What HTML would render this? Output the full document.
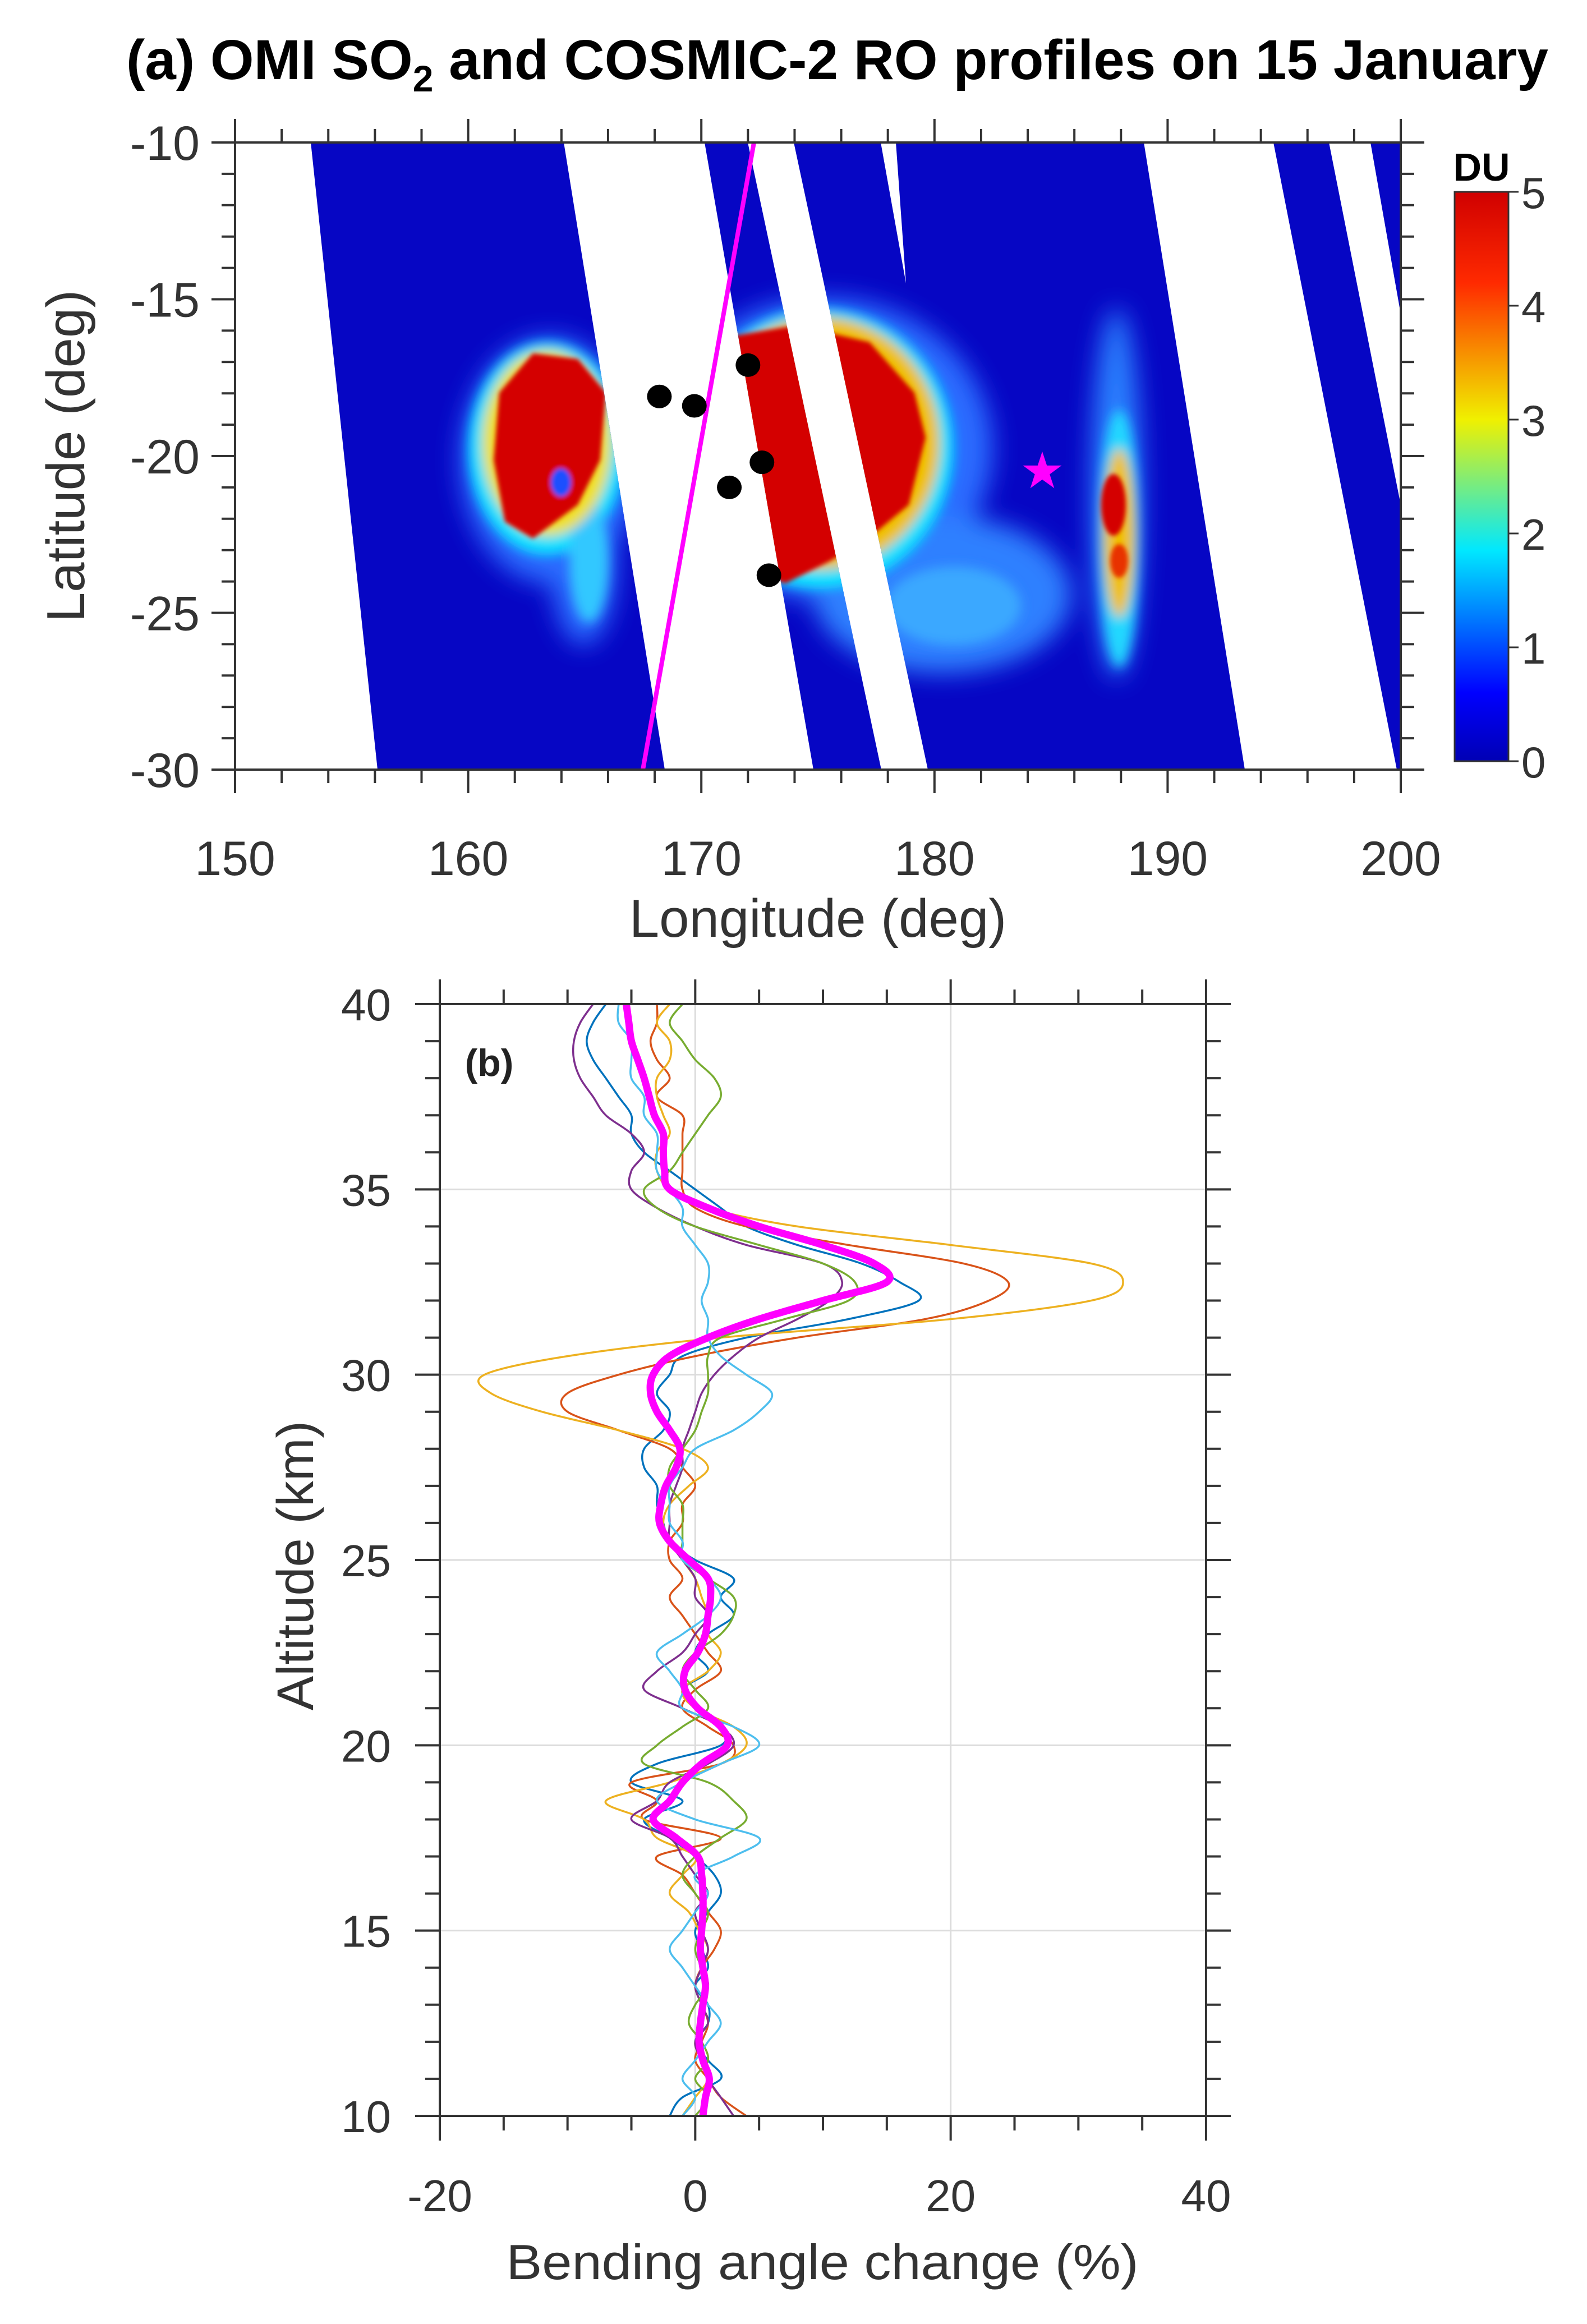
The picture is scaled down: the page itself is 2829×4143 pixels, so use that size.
<!DOCTYPE html>
<html><head><meta charset="utf-8"><style>
html,body{margin:0;padding:0;background:#fff}
svg{display:block}
text{font-family:"Liberation Sans",sans-serif}
</style></head><body>
<svg id="fig" xmlns="http://www.w3.org/2000/svg" width="2829" height="4143" viewBox="0 0 2829 4143">
<defs>
<linearGradient id="jet" x1="0" y1="1" x2="0" y2="0">
<stop offset="0" stop-color="#0000b4"/><stop offset="0.12" stop-color="#0000ff"/><stop offset="0.37" stop-color="#00e8ff"/><stop offset="0.6" stop-color="#f0f000"/><stop offset="0.84" stop-color="#ff2a00"/><stop offset="1" stop-color="#d00000"/>
</linearGradient>
<clipPath id="swath">
<polygon points="554,254 1005,254 1185,1372 673,1372"/>
<polygon points="1256,254 1333,254 1571,1372 1450,1372"/>
<polygon points="1415,254 2039,254 2219,1372 1654,1372"/>
<polygon points="2270,254 2369,254 2497,900 2497,1372 2490,1372"/>
<polygon points="2443,254 2497,254 2497,560"/>
</clipPath>
<filter id="b1" x="-50%" y="-50%" width="200%" height="200%"><feGaussianBlur stdDeviation="22"/></filter>
<filter id="b2" x="-50%" y="-50%" width="200%" height="200%"><feGaussianBlur stdDeviation="10"/></filter>
<filter id="b3" x="-50%" y="-50%" width="200%" height="200%"><feGaussianBlur stdDeviation="4"/></filter>
</defs>

<text x="225" y="141" font-size="100" font-weight="bold" fill="#000" textLength="2535" lengthAdjust="spacingAndGlyphs">(a) OMI SO<tspan font-size="66" dy="22">2</tspan><tspan dy="-22"> and COSMIC-2 RO profiles on 15 January</tspan></text>

<g id="panelA">
<g clip-path="url(#swath)">
<rect x="419" y="254" width="2078" height="1118" fill="#0606c4"/>
<g filter="url(#b1)">
<ellipse cx="980" cy="820" rx="160" ry="220" fill="#2a6cff"/>
<ellipse cx="1040" cy="1000" rx="60" ry="150" fill="#2a6cff"/>
<ellipse cx="1470" cy="800" rx="300" ry="270" fill="#2a6cff"/>
<ellipse cx="1680" cy="1060" rx="230" ry="140" fill="#2f80ff"/>
<ellipse cx="1990" cy="880" rx="45" ry="330" fill="#2a80ff"/>
</g>
<g filter="url(#b2)">
<ellipse cx="975" cy="800" rx="140" ry="190" fill="#10e0ff"/>
<ellipse cx="1050" cy="1000" rx="35" ry="110" fill="#30c8ff"/>
<ellipse cx="1460" cy="800" rx="240" ry="250" fill="#10e0ff"/>
<ellipse cx="1700" cy="1080" rx="120" ry="70" fill="#3aa8ff"/>
<ellipse cx="1995" cy="960" rx="35" ry="230" fill="#20d8ff"/>
<ellipse cx="975" cy="790" rx="115" ry="165" fill="#f0e020"/>
<ellipse cx="1460" cy="790" rx="215" ry="225" fill="#f0c000"/>
<ellipse cx="1995" cy="950" rx="28" ry="150" fill="#f0c000"/>
</g>
<g filter="url(#b3)">
<path d="M890,700 L950,630 L1030,640 L1080,700 L1070,820 L1030,900 L950,960 L900,930 L880,820 Z" fill="#d40000"/>
<path d="M1300,600 L1420,580 L1550,610 L1630,700 L1650,780 L1620,900 L1560,950 L1480,1000 L1400,1040 L1340,1020 L1320,900 L1300,750 Z" fill="#d40000"/>
<ellipse cx="1985" cy="900" rx="22" ry="55" fill="#d40000"/>
<ellipse cx="1995" cy="1000" rx="16" ry="30" fill="#e83000"/>
<ellipse cx="1000" cy="860" rx="18" ry="25" fill="#1a50ff"/>
</g>
</g>
<polygon points="1570,254 1597,254 1615,505" fill="#fff"/>
<line x1="1344" y1="254" x2="1146" y2="1372" stroke="#ff00ff" stroke-width="8"/>
<g id="roDots"></g>
<text x="1858" y="870" font-size="90" fill="#ff00ff" text-anchor="middle">★</text>
<rect x="419" y="254" width="2078" height="1118" fill="none" stroke="#333" stroke-width="4"/>
<g id="axA"></g>
<rect x="2593" y="342" width="96" height="1015" fill="url(#jet)" stroke="#333" stroke-width="3"/>
<g id="cbA"></g>
<text x="2641" y="322" font-size="70" font-weight="bold" text-anchor="middle" fill="#000">DU</text>
<text x="1458" y="1670" font-size="96" text-anchor="middle" fill="#333">Longitude (deg)</text>
<text transform="translate(150,813) rotate(-90)" font-size="96" text-anchor="middle" fill="#333">Latitude (deg)</text>
</g>

<g id="panelB">
<g id="gridB"></g>
<g id="linesB"></g>
<rect x="784" y="1790" width="1366" height="1982" fill="none" stroke="#333" stroke-width="4"/>
<g id="axB"></g>
<text x="872" y="1918" font-size="68" font-weight="bold" text-anchor="middle" fill="#222">(b)</text>
<text x="1466" y="4063" font-size="88" text-anchor="middle" fill="#333" textLength="1127" lengthAdjust="spacingAndGlyphs">Bending angle change (%)</text>
<text transform="translate(558,2791) rotate(-90)" font-size="92" text-anchor="middle" fill="#333">Altitude (km)</text>
</g>
</svg>
<script>
const NS='http://www.w3.org/2000/svg';
// Panel (a) data
const dotLon=[168.2,169.7,172.0,172.6,171.2,172.9];
const dotLat=[-18.1,-18.4,-17.1,-20.2,-21.0,-23.8];
const lonTicks=[150,160,170,180,190,200];
const latTicks=[-10,-15,-20,-25,-30];
const cbTicks=[0,1,2,3,4,5];
// Panel (b) data
const alt=[10,10.5,11,11.5,12,12.5,13,13.5,14,14.5,15,15.5,16,16.5,17,17.5,18,18.5,19,19.5,20,20.5,21,21.5,22,22.5,23,23.5,24,24.5,25,25.5,26,26.5,27,27.5,28,28.5,29,29.5,30,30.5,31,31.5,32,32.5,33,33.5,34,34.5,35,35.5,36,36.5,37,37.5,38,38.5,39,39.5,40];
const sBlue=[-2,-1,2,1,0,1,1,0,1,0.5,0, 1,2,1.5,0,-2,-4,-1,-5,-3,2, 2,0,-1,1,0,1,3,2,3,0, -2,-2.5,-3,-3,-4,-4,-2.5,-2,-3,-2, -1,4,12,17.5,16,13,8,4,2,0, -2,-4,-5,-5,-6,-7,-8,-8.5,-8,-7];
const sOrange=[4,2,1,0,0.5,1,0.5,0,0.5,1.5,2, 1,0,-1,-3,2,-4,-3,-5,2,3, 1,-1,0,2,1,0,-1,-2,-1,-2, -2,-1,-1,0,-1,-2,-6,-10,-10,-6, 0,8,18,23,24.5,21,12,4,0,-1, -1,-1,-1,-1,-3,-2,-3,-3.5,-3,-3];
const sYellow=[-1,0,1,0.5,0,1,0.5,0,0.5,1,0.3, -0.5,-2,-1,0,-3,-4,-7,-2,2,4, 3,0,-1,1,2,1,1,0.5,0,-1, -2,-2.5,-2,-0.5,1,-1,-6,-12,-16,-16.5, -10,2,20,31,33.5,31,20,8,1,-2, -3,-3,-2,-2.5,-3,-3,-2,-2,-3,-2];
const sPurple=[3,2,1,0.5,0,1,0.5,0,0.5,1,0.5, 0,1,0,-1,-2,-5,-3,-2,1,3, 2,-1,-4,-3,-1,0,1,0,0,-1, -2,-2,-2,-1.5,-1,-1,-0.5,0,0.5,1.5, 3,5,8,10.5,11.5,10,4,0,-3,-5, -5,-4,-5,-7,-8,-9,-9.5,-9.5,-9,-8];
const sGreen=[0,1,0,1,0.5,-0.5,0,1,0.5,0,0.5, 1,0,-1,0,2,4,3,1,-4,-3, -1,1,0,-1,0,2,3,3,1,-1, -1,-1,-1,-2,-2,-1,0,0.5,1,1, 1,2,7,12,12.5,10,5,0,-3,-4, -2,-1,0,1,2,1.5,0,-1,-2,-1];
const sCyan=[-1,0,-1,0,1,2,1,0,-1,-2,-1, 0,1,0,3,5,0,-3,-1,2,5, 3,-1,-1,-2,-3,-1,1,2,1,-1, -1,-2,-2,-2,-1,0,3,5,6,4, 2,1,1,0.5,1,1,0,-1,-1,-2, -3,-3,-3,-4,-4,-5,-5,-5,-6,-6];
const sMean=[0.6,0.8,1.1,0.6,0.3,0.4,0.6,0.8,0.6,0.4,0.5, 0.6,0.6,0.5,0.2,-1.5,-3.3,-2,-1,0.5,2.5, 2,0.2,-0.8,-0.8,0.2,0.8,1,1.2,1,-0.5, -2,-2.8,-2.7,-2.3,-1.5,-1.2,-2,-3,-3.5,-3.3, -2,1,5,10,15,14,10,5,1,-2, -2.4,-2.5,-2.5,-3.2,-3.6,-4,-4.5,-5,-5.2,-5.4];
const seriesList=[[sBlue,'#0072BD','series-blue'],[sOrange,'#D95319','series-orange'],[sYellow,'#EDB120','series-yellow'],[sPurple,'#7E2F8E','series-purple'],[sGreen,'#77AC30','series-green'],[sCyan,'#4DBEEE','series-cyan']];
const xTicksB=[-20,0,20,40];
const yTicksB=[10,15,20,25,30,35,40];

// scales
const lonX=v=>419+(v-150)*2078/50;
const latY=v=>254+(-10-v)*1118/20;
const cbY=v=>1357-v*1015/5;
const bX=v=>784+(v+20)*1366/60;
const bY=v=>3772-(v-10)*1982/30;

function mk(tag,attrs,parent){const e=document.createElementNS(NS,tag);for(const k in attrs)e.setAttribute(k,attrs[k]);parent.appendChild(e);return e;}

const dots=document.getElementById('roDots');
dotLon.forEach((lo,i)=>{const c=mk('ellipse',{cx:lonX(lo),cy:latY(dotLat[i]),rx:22,ry:21,fill:'#000'},dots);

});

const axA=document.getElementById('axA');
for(let v=150;v<=200;v+=2){const maj=(v%10===0);const L=maj?42:24;const x=lonX(v);
mk('line',{x1:x,y1:254,x2:x,y2:254-L,stroke:'#333','stroke-width':4},axA);
mk('line',{x1:x,y1:1372,x2:x,y2:1372+L,stroke:'#333','stroke-width':4},axA);}
for(let v=-30;v<=-10;v+=1){const maj=(v%5===0);const L=maj?42:24;const y=latY(v);
mk('line',{x1:419,y1:y,x2:419-L,y2:y,stroke:'#333','stroke-width':4},axA);
mk('line',{x1:2497,y1:y,x2:2497+L,y2:y,stroke:'#333','stroke-width':4},axA);}
lonTicks.forEach(v=>{const t=mk('text',{x:lonX(v),y:1560,'font-size':86,'text-anchor':'middle',fill:'#333'},axA);t.textContent=v;

});
latTicks.forEach(v=>{const t=mk('text',{x:356,y:latY(v)+31,'font-size':86,'text-anchor':'end',fill:'#333'},axA);t.textContent=v;

});
const cbA=document.getElementById('cbA');
cbTicks.forEach(v=>{const y=cbY(v);
mk('line',{x1:2689,y1:y,x2:2707,y2:y,stroke:'#333','stroke-width':3},cbA);
const t=mk('text',{x:2712,y:y+29,'font-size':78,fill:'#333'},cbA);t.textContent=v;

});

// panel b
const gridB=document.getElementById('gridB');
[0,20].forEach(v=>mk('line',{x1:bX(v),y1:1790,x2:bX(v),y2:3772,stroke:'#dcdcdc','stroke-width':3},gridB));
[15,20,25,30,35].forEach(v=>mk('line',{x1:784,y1:bY(v),x2:2150,y2:bY(v),stroke:'#dcdcdc','stroke-width':3},gridB));
const axB=document.getElementById('axB');
for(let v=-20;v<=40;v+=5){const maj=(v%20===0);const L=maj?44:26;const x=bX(v);
mk('line',{x1:x,y1:1790,x2:x,y2:1790-L,stroke:'#333','stroke-width':4},axB);
mk('line',{x1:x,y1:3772,x2:x,y2:3772+L,stroke:'#333','stroke-width':4},axB);}
for(let v=10;v<=40;v+=1){const maj=(v%5===0);const L=maj?44:26;const y=bY(v);
mk('line',{x1:784,y1:y,x2:784-L,y2:y,stroke:'#333','stroke-width':4},axB);
mk('line',{x1:2150,y1:y,x2:2150+L,y2:y,stroke:'#333','stroke-width':4},axB);}
xTicksB.forEach(v=>{const t=mk('text',{x:bX(v),y:3942,'font-size':80,'text-anchor':'middle',fill:'#333'},axB);t.textContent=v;

});
yTicksB.forEach(v=>{const t=mk('text',{x:697,y:bY(v)+29,'font-size':80,'text-anchor':'end',fill:'#333'},axB);t.textContent=v;

});

function smoothPath(vals){const p=vals.map((v,i)=>[bX(v),bY(alt[i])]);let d='M'+p[0][0]+','+p[0][1];
for(let i=0;i<p.length-1;i++){const p0=p[Math.max(i-1,0)],p1=p[i],p2=p[i+1],p3=p[Math.min(i+2,p.length-1)];
const c1=[p1[0]+(p2[0]-p0[0])/6,p1[1]+(p2[1]-p0[1])/6],c2=[p2[0]-(p3[0]-p1[0])/6,p2[1]-(p3[1]-p1[1])/6];
d+=' C'+c1[0]+','+c1[1]+' '+c2[0]+','+c2[1]+' '+p2[0]+','+p2[1];}return d;}
const linesB=document.getElementById('linesB');
seriesList.forEach(s=>{const e=mk('path',{d:smoothPath(s[0]),fill:'none',stroke:s[1],'stroke-width':3.5},linesB);

});
const m=mk('path',{d:smoothPath(sMean),fill:'none',stroke:'#ff00ff','stroke-width':13,'stroke-linejoin':'round'},linesB);


</script>
</body></html>
